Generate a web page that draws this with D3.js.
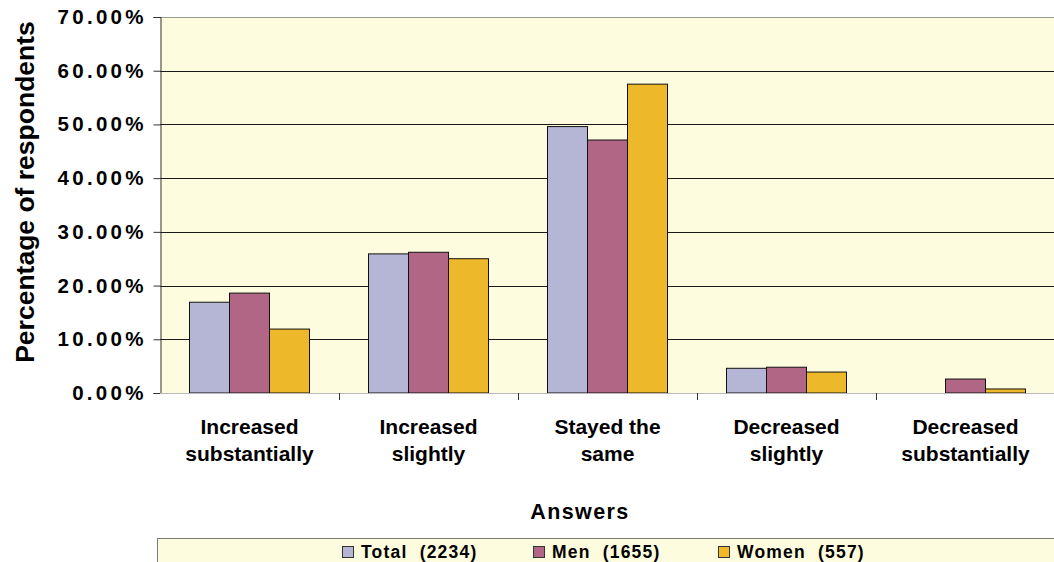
<!DOCTYPE html>
<html>
<head>
<meta charset="utf-8">
<script src="https://cdn.jsdelivr.net/npm/d3@7"></script>
<style>
  html, body { margin: 0; padding: 0; background: #fff; }
  svg { display: block; font-family: "Liberation Sans", Arial, sans-serif; font-weight: bold; }
</style>
</head>
<body>
<svg id="chart" width="1054" height="562"></svg>
<script>
const categories = [
  ["Increased", "substantially"],
  ["Increased", "slightly"],
  ["Stayed the", "same"],
  ["Decreased", "slightly"],
  ["Decreased", "substantially"]
];
const seriesNames = ["Total  (2234)", "Men  (1655)", "Women  (557)"];
const totalValues = [16.9, 25.9, 49.6, 4.6, 0];
const menValues   = [18.6, 26.2, 47.1, 4.8, 2.6];
const womenValues = [11.9, 25.0, 57.5, 3.9, 0.75];
const seriesColors = ["#B5B5D6", "#B16685", "#EDB92A"];
const yTicks = [0, 10, 20, 30, 40, 50, 60, 70];
const yTitle = "Percentage of respondents";
const xTitle = "Answers";

const series = [totalValues, menValues, womenValues];

const svg = d3.select("#chart");
const plot = { left: 160, right: 1055, top: 17, bottom: 393 };

const x = d3.scaleBand()
  .domain(d3.range(categories.length))
  .range([plot.left, plot.right])
  .paddingInner(0).paddingOuter(0);
const xs = d3.scaleBand()
  .domain(d3.range(series.length))
  .range([29.5, x.bandwidth() - 29.5]);
const y = d3.scaleLinear().domain([0, 70]).range([plot.bottom, plot.top]);

// plot background
svg.append("rect")
  .attr("x", plot.left).attr("y", plot.top)
  .attr("width", plot.right - plot.left).attr("height", plot.bottom - plot.top)
  .attr("fill", "#FEFCDE");

// gridlines
svg.append("g").selectAll("line")
  .data(yTicks.filter(d => d > 0 && d < 70))
  .join("line")
  .attr("x1", plot.left).attr("x2", plot.right)
  .attr("y1", d => Math.round(y(d)) + 0.5).attr("y2", d => Math.round(y(d)) + 0.5)
  .attr("stroke", "#1a1a1a").attr("stroke-width", 1);

// top border
svg.append("line")
  .attr("x1", plot.left).attr("x2", plot.right)
  .attr("y1", Math.round(y(70)) + 0.5).attr("y2", Math.round(y(70)) + 0.5)
  .attr("stroke", "#9a9a9a");

// bars
const groups = svg.append("g").selectAll("g")
  .data(categories.map((c, i) => i))
  .join("g")
  .attr("transform", i => `translate(${x(i)},0)`);
groups.selectAll("rect")
  .data(i => series.map((s, k) => ({ k, v: s[i] })).filter(d => d.v > 0))
  .join("rect")
  .attr("x", d => xs(d.k))
  .attr("width", xs.bandwidth())
  .attr("y", d => y(d.v))
  .attr("height", d => y(0) - y(d.v))
  .attr("fill", d => seriesColors[d.k])
  .attr("stroke", "#111").attr("stroke-width", 1);

// y axis
const yAxis = svg.append("g")
  .attr("transform", `translate(${plot.left + 0.5},0)`)
  .call(d3.axisLeft(y).tickValues(yTicks).tickSize(7).tickPadding(10)
    .tickFormat(d => d3.format(".2%")(d / 100)));
yAxis.select(".domain").attr("stroke", "#333");
yAxis.selectAll(".tick line").attr("stroke", "#333");
yAxis.selectAll("text")
  .attr("fill", "#000")
  .style("font-family", "'Liberation Sans', Arial, sans-serif")
  .style("font-weight", "bold")
  .style("font-size", "20.5px")
  .style("letter-spacing", "3.3px")
  .attr("dx", "3.3px");

// x axis baseline
svg.append("line")
  .attr("x1", plot.left).attr("x2", plot.right)
  .attr("y1", plot.bottom + 0.5).attr("y2", plot.bottom + 0.5)
  .attr("stroke", "#b8b8b8");
// x ticks at category boundaries
svg.append("g").selectAll("line")
  .data(d3.range(1, categories.length))
  .join("line")
  .attr("x1", i => Math.round(x(i)) + 0.5).attr("x2", i => Math.round(x(i)) + 0.5)
  .attr("y1", plot.bottom).attr("y2", plot.bottom + 7)
  .attr("stroke", "#333");

// category labels
const catLabels = svg.append("g").selectAll("text")
  .data(categories)
  .join("text")
  .attr("x", (d, i) => x(i) + x.bandwidth() / 2)
  .attr("y", 434)
  .attr("text-anchor", "middle")
  .style("font-size", "21px")
  .attr("fill", "#000");
catLabels.selectAll("tspan")
  .data(d => d)
  .join("tspan")
  .attr("x", function () { return d3.select(this.parentNode).attr("x"); })
  .attr("dy", (d, j) => j === 0 ? 0 : 26.5)
  .text(d => d);

// y title
svg.append("text")
  .attr("transform", `translate(34,192) rotate(-90)`)
  .attr("text-anchor", "middle")
  .style("font-size", "26.5px")
  .attr("fill", "#000")
  .text(yTitle);

// x title
svg.append("text")
  .attr("x", 580)
  .attr("y", 519)
  .attr("text-anchor", "middle")
  .style("font-size", "21.5px")
  .style("letter-spacing", "1.4px")
  .attr("fill", "#000")
  .text(xTitle);

// legend
svg.append("rect")
  .attr("x", 157.5).attr("y", 538.5)
  .attr("width", 1054 - 157).attr("height", 40)
  .attr("fill", "#FEFCDE").attr("stroke", "#7a7a7a");
const legendX = [342, 533, 718];
const lg = svg.append("g").selectAll("g")
  .data(seriesNames)
  .join("g")
  .attr("transform", (d, i) => `translate(${legendX[i]},0)`);
lg.append("rect")
  .attr("x", 0.5).attr("y", 546.5)
  .attr("width", 11).attr("height", 11)
  .attr("fill", (d, i) => seriesColors[i])
  .attr("stroke", "#333");
lg.append("text")
  .attr("x", 19).attr("y", 558)
  .style("font-size", "17.5px")
  .style("letter-spacing", "1.2px")
  .style("white-space", "pre")
  .attr("fill", "#000")
  .text(d => d);
</script>
</body>
</html>
